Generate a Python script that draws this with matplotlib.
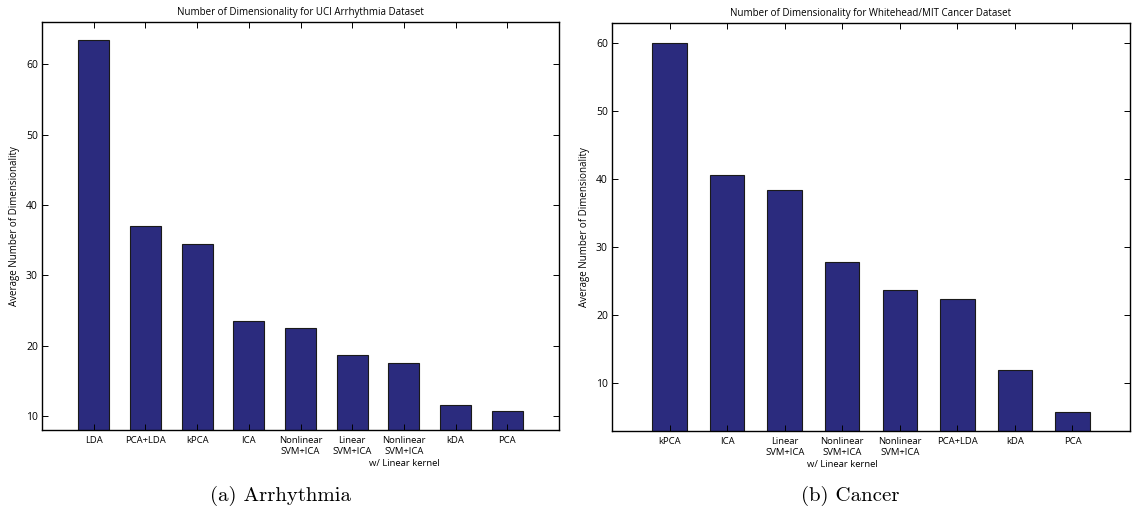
import numpy as np
import matplotlib.pyplot as plt

# Данные: левая панель (Arrhythmia)
arr_labels = ['LDA', 'PCA+LDA', 'kPCA', 'ICA', 'Nonlinear\nSVM+ICA', 'Linear\nSVM+ICA',
              'Nonlinear\nSVM+ICA\nw/ Linear kernel', 'kDA', 'PCA']
arr_values = [63.5, 37.0, 34.4, 23.5, 22.5, 18.6, 17.5, 11.5, 10.7]

# Данные: правая панель (Cancer)
can_labels = ['kPCA', 'ICA', 'Linear\nSVM+ICA', 'Nonlinear\nSVM+ICA\nw/ Linear kernel',
              'Nonlinear\nSVM+ICA', 'PCA+LDA', 'kDA', 'PCA']
can_values = [60.0, 40.6, 38.5, 27.8, 23.7, 22.4, 12.0, 5.8]

plt.rcParams['font.family'] = ['Open Sans', 'DejaVu Sans']
bar_color = '#2b2b7e'

fig = plt.figure(figsize=(11.35, 5.16), dpi=100)
ax1 = fig.add_axes([42 / 1135, 1 - 430 / 516, (559 - 42) / 1135, (430 - 22) / 516])
ax2 = fig.add_axes([612 / 1135, 1 - 431 / 516, (1130 - 612) / 1135, (431 - 23) / 516])


def draw_panel(ax, labels, values, title, ylim):
    x = np.arange(1, len(values) + 1)
    ax.bar(x, values, width=0.6, color=bar_color, edgecolor='#1a1a1a', linewidth=0.8)
    ax.set_xlim(0, len(values) + 1)
    ax.set_ylim(*ylim)
    ax.set_xticks(x)
    ax.set_xticklabels(labels, fontsize=6.8, linespacing=1.4)
    ax.set_yticks(np.arange(10, 61, 10))
    ax.tick_params(axis='y', labelsize=7.5, direction='in', length=4, width=0.7,
                   right=True, pad=3)
    ax.tick_params(axis='x', direction='in', length=4, width=0.7, top=True, pad=4)
    ax.set_title(title, fontsize=7, pad=5)
    ax.set_ylabel('Average Number of Dimensionality', fontsize=7, labelpad=4)
    for s in ax.spines.values():
        s.set_linewidth(1.0)


draw_panel(ax1, arr_labels, arr_values,
           'Number of Dimensionality for UCI Arrhythmia Dataset', (8, 66))
draw_panel(ax2, can_labels, can_values,
           'Number of Dimensionality for Whitehead/MIT Cancer Dataset', (3, 63))

# Подписи под панелями
fig.text(280 / 1135, 1 - 496 / 516, '(a) Arrhythmia', ha='center', va='center',
         fontsize=15, family='cmr10')
fig.text(850 / 1135, 1 - 496 / 516, '(b) Cancer', ha='center', va='center',
         fontsize=15, family='cmr10')

fig.savefig('out.png', dpi=100)
